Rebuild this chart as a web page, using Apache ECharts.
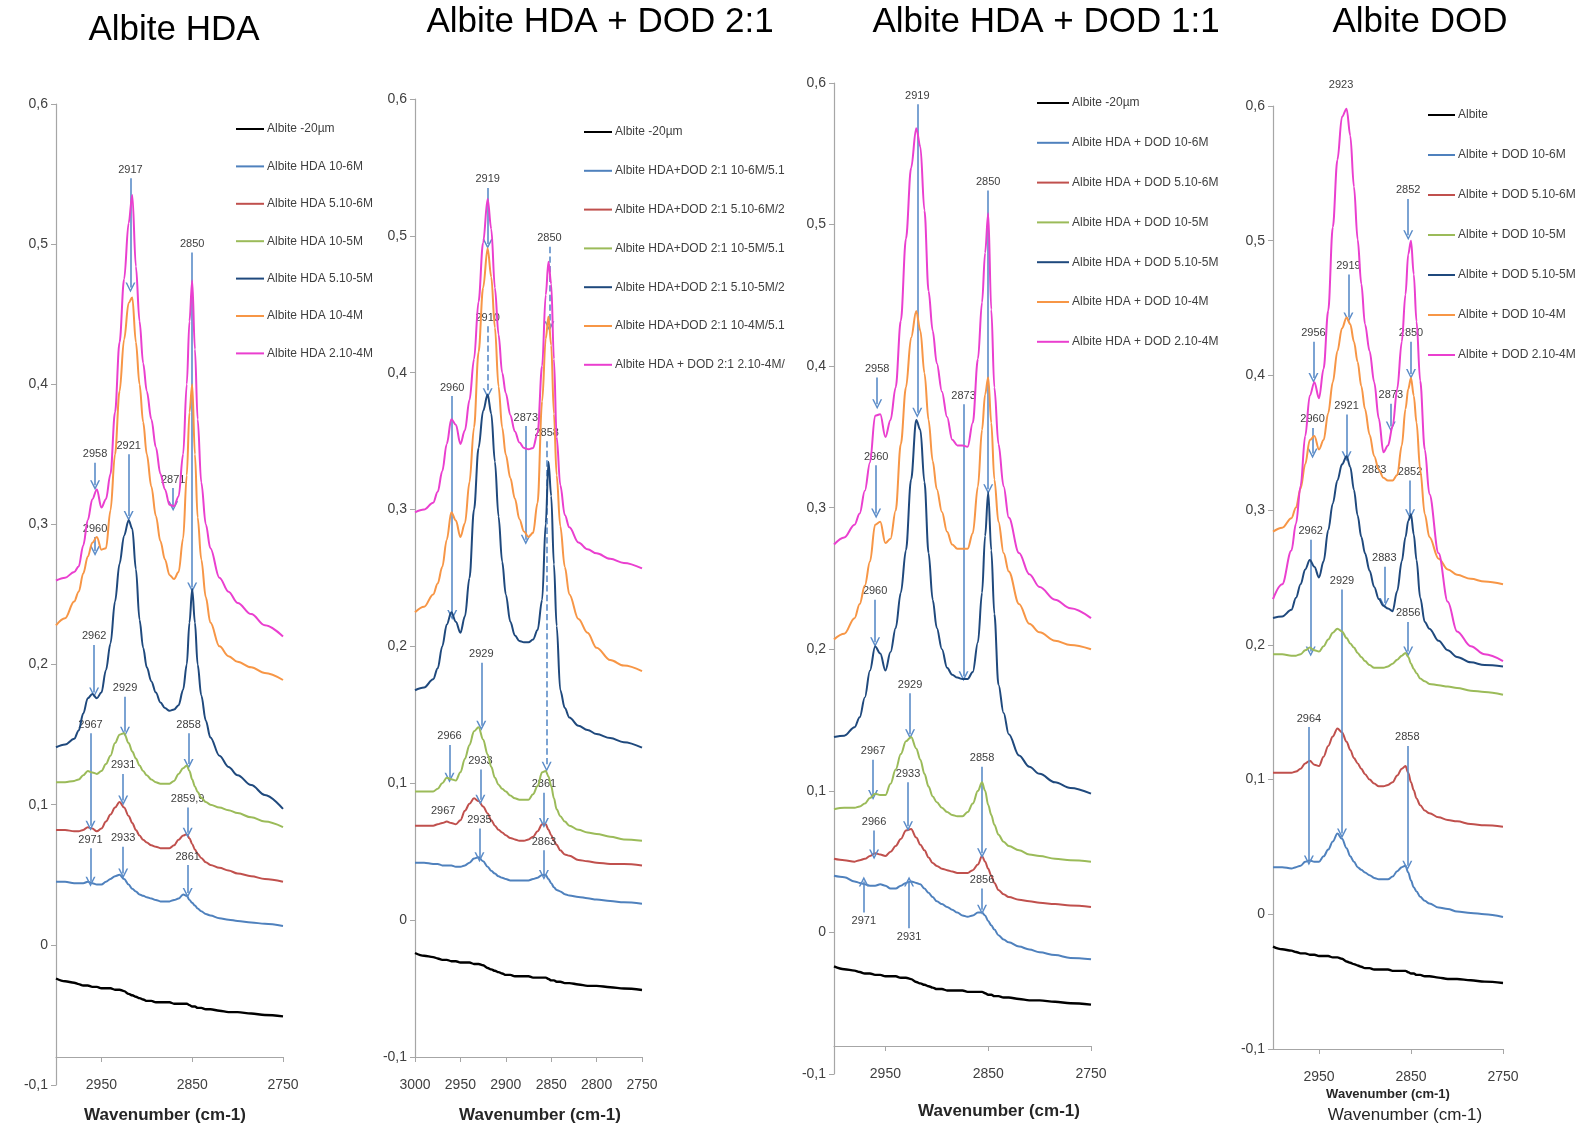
<!DOCTYPE html>
<html><head><meta charset="utf-8">
<script src="https://cdn.jsdelivr.net/npm/echarts@6/dist/echarts.min.js"></script>
<style>html,body{margin:0;padding:0;background:#fff}#chart{width:1579px;height:1130px}</style>
</head><body><div id="chart"></div>
<script>
// ---------------- DATA ----------------
const WAVENUMBERS = [
  3000, 2990, 2980, 2975, 2970, 2965, 2960, 2955,
  2950, 2945, 2940, 2935, 2930, 2925, 2920, 2916,
  2912, 2908, 2904, 2900, 2895, 2890, 2885, 2880,
  2875, 2870, 2865, 2860, 2856, 2853, 2850, 2847,
  2844, 2840, 2835, 2830, 2820, 2810, 2800, 2785, 2770, 2750];

const ALBITE_BASE = [
  -0.024, -0.026, -0.027, -0.028, -0.029, -0.029, -0.030, -0.030,
  -0.031, -0.031, -0.031, -0.032, -0.032, -0.033, -0.035, -0.036,
  -0.037, -0.038, -0.039, -0.040, -0.040, -0.041, -0.041, -0.041,
  -0.041, -0.042, -0.042, -0.042, -0.042, -0.043, -0.044, -0.044,
  -0.045, -0.045, -0.046, -0.046, -0.047, -0.048, -0.048, -0.049, -0.050, -0.051];

// Panel 1 : Albite HDA
const HDA_BLUE = [
  0.045, 0.045, 0.044, 0.044, 0.044, 0.045, 0.044, 0.043,
  0.043, 0.045, 0.047, 0.049, 0.050, 0.047, 0.043, 0.040,
  0.038, 0.036, 0.035, 0.034, 0.033, 0.032, 0.031, 0.031,
  0.031, 0.032, 0.033, 0.036, 0.035, 0.032, 0.030, 0.028,
  0.026, 0.024, 0.022, 0.021, 0.019, 0.018, 0.017, 0.016, 0.015, 0.0135];
const HDA_RED = [
  0.082, 0.082, 0.081, 0.081, 0.082, 0.084, 0.083, 0.081,
  0.083, 0.088, 0.093, 0.098, 0.102, 0.098, 0.092, 0.087,
  0.082, 0.078, 0.075, 0.073, 0.071, 0.070, 0.069, 0.069,
  0.069, 0.071, 0.075, 0.078, 0.079, 0.076, 0.072, 0.068,
  0.065, 0.062, 0.059, 0.057, 0.055, 0.053, 0.051, 0.049, 0.047, 0.045];
const HDA_GREEN = [
  0.116, 0.116, 0.117, 0.118, 0.121, 0.124, 0.123, 0.122,
  0.124, 0.129, 0.135, 0.144, 0.150, 0.151, 0.144, 0.138,
  0.133, 0.128, 0.124, 0.121, 0.118, 0.116, 0.115, 0.115,
  0.115, 0.117, 0.122, 0.126, 0.128, 0.124, 0.118, 0.113,
  0.109, 0.105, 0.102, 0.100, 0.098, 0.096, 0.094, 0.091, 0.088, 0.084];
const HDA_NAVY = [
  0.141, 0.143, 0.147, 0.153, 0.165, 0.176, 0.179, 0.176,
  0.180, 0.196, 0.215, 0.245, 0.272, 0.292, 0.303, 0.297,
  0.268, 0.232, 0.212, 0.198, 0.188, 0.180, 0.173, 0.169,
  0.167, 0.168, 0.171, 0.182, 0.200, 0.230, 0.254, 0.230,
  0.200, 0.178, 0.160, 0.148, 0.135, 0.127, 0.121, 0.114, 0.107, 0.097];
const HDA_ORANGE = [
  0.228, 0.233, 0.245, 0.252, 0.265, 0.277, 0.287, 0.291,
  0.282, 0.283, 0.310, 0.350, 0.395, 0.432, 0.458, 0.462,
  0.430, 0.400, 0.373, 0.350, 0.327, 0.306, 0.288, 0.275,
  0.264, 0.261, 0.266, 0.290, 0.335, 0.380, 0.400, 0.350,
  0.305, 0.275, 0.248, 0.230, 0.213, 0.206, 0.202, 0.198, 0.194, 0.189];
const HDA_PINK = [
  0.260, 0.262, 0.266, 0.270, 0.285, 0.303, 0.318, 0.325,
  0.312, 0.318, 0.336, 0.380, 0.430, 0.475, 0.515, 0.535,
  0.484, 0.445, 0.415, 0.395, 0.375, 0.355, 0.336, 0.325,
  0.314, 0.313, 0.320, 0.350, 0.400, 0.445, 0.474, 0.425,
  0.375, 0.330, 0.300, 0.283, 0.262, 0.252, 0.244, 0.236, 0.228, 0.220];

// Panel 2 : Albite HDA + DOD 2:1
const MIX21_BLUE = [
  0.042, 0.042, 0.041, 0.041, 0.040, 0.040, 0.040, 0.039,
  0.039, 0.040, 0.042, 0.045, 0.046, 0.043, 0.039, 0.036,
  0.034, 0.032, 0.031, 0.030, 0.029, 0.029, 0.029, 0.029,
  0.029, 0.030, 0.031, 0.033, 0.033, 0.030, 0.027, 0.024,
  0.022, 0.021, 0.019, 0.018, 0.017, 0.016, 0.015, 0.014, 0.013, 0.012];
const MIX21_RED = [
  0.069, 0.069, 0.069, 0.070, 0.071, 0.072, 0.071, 0.070,
  0.073, 0.080, 0.085, 0.089, 0.087, 0.083, 0.078, 0.073,
  0.069, 0.066, 0.064, 0.062, 0.060, 0.059, 0.058, 0.058,
  0.059, 0.061, 0.065, 0.070, 0.070, 0.066, 0.062, 0.058,
  0.055, 0.051, 0.048, 0.047, 0.044, 0.043, 0.042, 0.041, 0.041, 0.040];
const MIX21_GREEN = [
  0.094, 0.094, 0.094, 0.096, 0.100, 0.104, 0.103, 0.102,
  0.108, 0.118, 0.128, 0.138, 0.141, 0.132, 0.121, 0.112,
  0.104, 0.099, 0.096, 0.094, 0.091, 0.089, 0.088, 0.088,
  0.088, 0.092, 0.098, 0.108, 0.109, 0.105, 0.098, 0.089,
  0.081, 0.076, 0.072, 0.069, 0.066, 0.064, 0.063, 0.061, 0.059, 0.058];
const MIX21_NAVY = [
  0.168, 0.170, 0.176, 0.184, 0.200, 0.216, 0.225, 0.218,
  0.210, 0.222, 0.250, 0.300, 0.345, 0.372, 0.384, 0.370,
  0.335, 0.295, 0.262, 0.238, 0.218, 0.208, 0.204, 0.203,
  0.203, 0.205, 0.212, 0.234, 0.290, 0.335, 0.310, 0.260,
  0.215, 0.168, 0.155, 0.148, 0.142, 0.139, 0.136, 0.133, 0.130, 0.126];
const MIX21_ORANGE = [
  0.225, 0.229, 0.238, 0.246, 0.258, 0.278, 0.298, 0.292,
  0.280, 0.290, 0.320, 0.360, 0.415, 0.462, 0.491, 0.470,
  0.433, 0.390, 0.360, 0.340, 0.323, 0.308, 0.293, 0.284,
  0.280, 0.283, 0.305, 0.379, 0.425, 0.441, 0.420, 0.370,
  0.325, 0.288, 0.258, 0.238, 0.220, 0.210, 0.199, 0.190, 0.186, 0.182];
const MIX21_PINK = [
  0.298, 0.300, 0.305, 0.313, 0.328, 0.348, 0.366, 0.362,
  0.348, 0.358, 0.380, 0.410, 0.452, 0.495, 0.527, 0.505,
  0.462, 0.428, 0.400, 0.385, 0.369, 0.357, 0.349, 0.345,
  0.344, 0.345, 0.356, 0.405, 0.457, 0.481, 0.465, 0.410,
  0.353, 0.318, 0.296, 0.287, 0.276, 0.271, 0.268, 0.264, 0.261, 0.257];

// Panel 3 : Albite HDA + DOD 1:1
const MIX11_BLUE = [
  0.040, 0.039, 0.036, 0.035, 0.034, 0.033, 0.033, 0.034,
  0.033, 0.031, 0.031, 0.033, 0.035, 0.036, 0.035, 0.034,
  0.031, 0.028, 0.025, 0.022, 0.020, 0.018, 0.016, 0.014,
  0.012, 0.011, 0.012, 0.014, 0.014, 0.012, 0.008, 0.005,
  0.002, -0.002, -0.005, -0.007, -0.010, -0.012, -0.014, -0.016, -0.018, -0.019];
const MIX11_RED = [
  0.052, 0.051, 0.050, 0.051, 0.052, 0.054, 0.056, 0.055,
  0.054, 0.057, 0.061, 0.066, 0.072, 0.073, 0.067, 0.062,
  0.058, 0.053, 0.049, 0.047, 0.045, 0.044, 0.043, 0.042,
  0.042, 0.042, 0.044, 0.048, 0.054, 0.050, 0.045, 0.040,
  0.035, 0.030, 0.027, 0.025, 0.023, 0.022, 0.021, 0.020, 0.019, 0.018];
const MIX11_GREEN = [
  0.087, 0.088, 0.088, 0.089, 0.091, 0.095, 0.098, 0.097,
  0.097, 0.105, 0.115, 0.126, 0.135, 0.138, 0.130, 0.122,
  0.112, 0.103, 0.096, 0.092, 0.088, 0.085, 0.083, 0.082,
  0.082, 0.085, 0.091, 0.100, 0.106, 0.100, 0.090, 0.083,
  0.076, 0.069, 0.064, 0.061, 0.058, 0.055, 0.054, 0.052, 0.051, 0.050];
const MIX11_NAVY = [
  0.138, 0.139, 0.145, 0.152, 0.166, 0.185, 0.202, 0.197,
  0.185, 0.198, 0.215, 0.240, 0.270, 0.320, 0.362, 0.355,
  0.318, 0.268, 0.235, 0.215, 0.200, 0.187, 0.182, 0.180,
  0.179, 0.179, 0.184, 0.205, 0.240, 0.280, 0.311, 0.270,
  0.225, 0.175, 0.155, 0.140, 0.125, 0.117, 0.112, 0.106, 0.102, 0.098];
const MIX11_ORANGE = [
  0.207, 0.211, 0.222, 0.232, 0.245, 0.262, 0.288, 0.290,
  0.275, 0.278, 0.298, 0.345, 0.385, 0.420, 0.439, 0.425,
  0.395, 0.362, 0.333, 0.313, 0.297, 0.283, 0.274, 0.271,
  0.271, 0.271, 0.282, 0.315, 0.355, 0.380, 0.392, 0.360,
  0.320, 0.290, 0.268, 0.255, 0.232, 0.218, 0.212, 0.206, 0.203, 0.200];
const MIX11_PINK = [
  0.274, 0.279, 0.288, 0.296, 0.312, 0.332, 0.365, 0.366,
  0.350, 0.362, 0.385, 0.432, 0.490, 0.540, 0.568, 0.555,
  0.510, 0.453, 0.425, 0.402, 0.382, 0.364, 0.348, 0.344,
  0.344, 0.343, 0.360, 0.405, 0.445, 0.480, 0.508, 0.440,
  0.385, 0.345, 0.315, 0.293, 0.268, 0.253, 0.244, 0.235, 0.229, 0.222];

// Panel 4 : Albite DOD
const DOD_BLUE = [
  0.035, 0.035, 0.034, 0.035, 0.036, 0.039, 0.040, 0.039,
  0.039, 0.043, 0.048, 0.054, 0.060, 0.056, 0.049, 0.043,
  0.039, 0.035, 0.033, 0.031, 0.029, 0.027, 0.026, 0.026,
  0.026, 0.028, 0.032, 0.035, 0.036, 0.031, 0.025, 0.020,
  0.017, 0.013, 0.010, 0.008, 0.005, 0.004, 0.002, 0.001, 0.000, -0.002];
const DOD_RED = [
  0.105, 0.105, 0.105, 0.106, 0.108, 0.112, 0.114, 0.111,
  0.110, 0.117, 0.125, 0.132, 0.138, 0.135, 0.128, 0.122,
  0.116, 0.112, 0.108, 0.104, 0.100, 0.097, 0.095, 0.095,
  0.096, 0.098, 0.103, 0.108, 0.110, 0.105, 0.098, 0.092,
  0.086, 0.081, 0.077, 0.075, 0.072, 0.070, 0.069, 0.067, 0.066, 0.065];
const DOD_GREEN = [
  0.193, 0.193, 0.192, 0.192, 0.193, 0.196, 0.198, 0.196,
  0.195, 0.199, 0.204, 0.209, 0.212, 0.210, 0.205, 0.201,
  0.198, 0.194, 0.191, 0.188, 0.185, 0.183, 0.183, 0.183,
  0.184, 0.186, 0.189, 0.192, 0.194, 0.191, 0.186, 0.182,
  0.179, 0.175, 0.173, 0.171, 0.170, 0.169, 0.168, 0.166, 0.165, 0.163];
const DOD_NAVY = [
  0.220, 0.221, 0.226, 0.235, 0.245, 0.256, 0.263, 0.258,
  0.250, 0.262, 0.285, 0.305, 0.322, 0.334, 0.340, 0.332,
  0.315, 0.296, 0.280, 0.268, 0.255, 0.243, 0.234, 0.229,
  0.227, 0.225, 0.240, 0.262, 0.280, 0.292, 0.297, 0.282,
  0.263, 0.235, 0.217, 0.212, 0.203, 0.196, 0.191, 0.187, 0.185, 0.184];
const DOD_ORANGE = [
  0.284, 0.287, 0.294, 0.302, 0.316, 0.334, 0.352, 0.355,
  0.345, 0.352, 0.372, 0.395, 0.418, 0.435, 0.443, 0.438,
  0.425, 0.410, 0.392, 0.375, 0.356, 0.340, 0.330, 0.324,
  0.322, 0.322, 0.326, 0.348, 0.375, 0.390, 0.398, 0.385,
  0.365, 0.330, 0.297, 0.280, 0.264, 0.256, 0.252, 0.249, 0.247, 0.245];
const DOD_PINK = [
  0.234, 0.245, 0.270, 0.290, 0.318, 0.355, 0.385, 0.395,
  0.383, 0.405, 0.448, 0.510, 0.560, 0.592, 0.598, 0.578,
  0.540, 0.501, 0.468, 0.438, 0.418, 0.395, 0.368, 0.343,
  0.348, 0.362, 0.390, 0.425, 0.460, 0.490, 0.500, 0.475,
  0.440, 0.396, 0.345, 0.312, 0.268, 0.232, 0.210, 0.199, 0.193, 0.188];

const HDA_NAMES = ['Albite -20µm', 'Albite HDA 10-6M', 'Albite HDA 5.10-6M', 'Albite HDA 10-5M', 'Albite HDA 5.10-5M', 'Albite HDA 10-4M', 'Albite HDA 2.10-4M'];
const MIX21_NAMES = ['Albite -20µm', 'Albite HDA+DOD 2:1 10-6M/5.1', 'Albite HDA+DOD 2:1 5.10-6M/2', 'Albite HDA+DOD 2:1 10-5M/5.1', 'Albite HDA+DOD 2:1 5.10-5M/2', 'Albite HDA+DOD 2:1 10-4M/5.1', 'Albite HDA + DOD 2:1 2.10-4M/'];
const MIX11_NAMES = ['Albite -20µm', 'Albite HDA + DOD 10-6M', 'Albite HDA + DOD 5.10-6M', 'Albite HDA + DOD 10-5M', 'Albite HDA + DOD 5.10-5M', 'Albite HDA + DOD 10-4M', 'Albite HDA + DOD 2.10-4M'];
const DOD_NAMES = ['Albite', 'Albite + DOD 10-6M', 'Albite + DOD 5.10-6M', 'Albite + DOD 10-5M', 'Albite + DOD 5.10-5M', 'Albite + DOD 10-4M', 'Albite + DOD 2.10-4M'];

const PANEL_TITLES = ['Albite HDA', 'Albite HDA + DOD 2:1', 'Albite HDA + DOD 1:1', 'Albite DOD'];
const X_TITLE = 'Wavenumber (cm-1)';
const TICKS_WIDE = [2950, 2850, 2750];
const TICKS_21 = [3000, 2950, 2900, 2850, 2800, 2750];

// peak annotations: [label, wavenumber, y start, y tip, style]
const ANN_HDA = [
  ['2917', 2918, 0.547, 0.469], ['2850', 2850, 0.494, 0.255], ['2958', 2957, 0.344, 0.328],
  ['2960', 2957, 0.291, 0.281], ['2921', 2920, 0.350, 0.306], ['2871', 2871, 0.326, 0.313],
  ['2962', 2958, 0.214, 0.180], ['2929', 2924, 0.177, 0.152], ['2967', 2962, 0.151, 0.085],
  ['2931', 2926, 0.122, 0.103], ['2858', 2854, 0.151, 0.129], ['2859,9', 2855, 0.098, 0.080],
  ['2971', 2962, 0.069, 0.045], ['2933', 2926, 0.070, 0.051], ['2861', 2855, 0.057, 0.037]];
const ANN_MIX21 = [
  ['2919', 2920, 0.535, 0.494], ['2850', 2852, 0.492, 0.434, 'dash'], ['2910', 2920, 0.434, 0.385, 'dash'],
  ['2960', 2959, 0.383, 0.223], ['2873', 2878, 0.361, 0.278], ['2858', 2855, 0.350, 0.112, 'dash'],
  ['2929', 2927, 0.188, 0.142], ['2966', 2962, 0.128, 0.104], ['2933', 2928, 0.110, 0.088],
  ['2861', 2858, 0.093, 0.071], ['2935', 2929, 0.067, 0.046], ['2863', 2858, 0.051, 0.033]];
const ANN_MIX11 = [
  ['2919', 2919, 0.585, 0.367], ['2850', 2850, 0.524, 0.313], ['2958', 2958, 0.392, 0.373],
  ['2873', 2874, 0.373, 0.181], ['2960', 2959, 0.330, 0.296], ['2960', 2960, 0.235, 0.205],
  ['2929', 2926, 0.169, 0.140], ['2967', 2962, 0.122, 0.097], ['2933', 2928, 0.106, 0.075],
  ['2858', 2856, 0.117, 0.056], ['2966', 2961, 0.072, 0.055], ['2856', 2856, 0.031, 0.016],
  ['2971', 2971, 0.014, 0.036], ['2931', 2927, 0.003, 0.036]];
const ANN_DOD = [
  ['2852', 2853, 0.531, 0.504], ['2919', 2918, 0.475, 0.443], ['2956', 2956, 0.425, 0.398],
  ['2850', 2850, 0.425, 0.401], ['2873', 2872, 0.379, 0.362], ['2960', 2957, 0.361, 0.342],
  ['2921', 2920, 0.371, 0.340], ['2852', 2851, 0.322, 0.297], ['2962', 2959, 0.278, 0.195],
  ['2883', 2879, 0.258, 0.231], ['2929', 2925, 0.241, 0.060], ['2856', 2853, 0.217, 0.195],
  ['2964', 2961, 0.139, 0.040], ['2858', 2854, 0.125, 0.036]];
const TEXT_MIX21 = [['2967', 2969, 0.080]];
const TEXT_DOD = [['2923', 2926, 0.6, 'above'], ['2883', 2890, 0.330]];

// ---------------- STYLE / LAYOUT ----------------
const COLORS = ['#000000', '#4F81BD', '#C0504D', '#9BBB59', '#1F497D', '#F79646', '#EA3FCF'];
const NARROW = "'Liberation Sans Narrow','Liberation Sans',sans-serif";
const BASEFONT = "'Liberation Sans',Arial,sans-serif";
const ARROW_HEAD = 'path://M0,10 L5,0 L10,10 L8.4,10 L5,3.2 L1.6,10 Z';

const PANELS = [
  {names: HDA_NAMES, sets: [ALBITE_BASE, HDA_BLUE, HDA_RED, HDA_GREEN, HDA_NAVY, HDA_ORANGE, HDA_PINK],
   ann: ANN_HDA, txt: [], ticks: TICKS_WIDE,
   grid: {left: 56, top: 104, width: 227, height: 981}, offset: -28,
   title: [174, 30], xname: [165, 1115],
   legend: {left: 236, top: 122, gap: 23.4, w: 28}},
  {names: MIX21_NAMES, sets: [ALBITE_BASE, MIX21_BLUE, MIX21_RED, MIX21_GREEN, MIX21_NAVY, MIX21_ORANGE, MIX21_PINK],
   ann: ANN_MIX21, txt: TEXT_MIX21, ticks: TICKS_21,
   grid: {left: 415, top: 99, width: 227, height: 958}, offset: 0,
   title: [600, 22], xname: [540, 1115],
   legend: {left: 584, top: 125, gap: 24.8, w: 28}},
  {names: MIX11_NAMES, sets: [ALBITE_BASE, MIX11_BLUE, MIX11_RED, MIX11_GREEN, MIX11_NAVY, MIX11_ORANGE, MIX11_PINK],
   ann: ANN_MIX11, txt: [], ticks: TICKS_WIDE,
   grid: {left: 834, top: 83, width: 257, height: 991}, offset: -28,
   title: [1046, 22], xname: [999, 1111],
   legend: {left: 1037, top: 96, gap: 25.8, w: 32}},
  {names: DOD_NAMES, sets: [ALBITE_BASE, DOD_BLUE, DOD_RED, DOD_GREEN, DOD_NAVY, DOD_ORANGE, DOD_PINK],
   ann: ANN_DOD, txt: TEXT_DOD, ticks: TICKS_WIDE,
   grid: {left: 1273, top: 106, width: 230, height: 943}, offset: 0,
   title: [1420, 22], xname: [1405, 1115],
   legend: {left: 1428, top: 108, gap: 26, w: 27}}
];

const AXIS_COLOR = '#A6A6A6';
const fmtY = v => { const r = Math.round(v * 10) / 10; return String(r).replace('.', ','); };
const fmtX = v => String(Math.round(v));

const grids = [], xAxes = [], yAxes = [], series = [], legends = [], titles = [];
PANELS.forEach((p, i) => {
  grids.push(Object.assign({containLabel: false}, p.grid));
  xAxes.push({
    gridIndex: i, type: 'value', min: 2750, max: 3000, inverse: true, offset: p.offset,
    axisLine: {show: true, onZero: false, lineStyle: {color: AXIS_COLOR, width: 1.2}},
    axisTick: {show: true, length: 5, customValues: p.ticks, lineStyle: {color: AXIS_COLOR}},
    axisLabel: {customValues: p.ticks, formatter: fmtX, margin: 21, fontSize: 14, color: '#404040', fontFamily: BASEFONT},
    splitLine: {show: false}
  });
  yAxes.push({
    gridIndex: i, type: 'value', min: -0.1, max: 0.6, interval: 0.1,
    axisLine: {show: true, onZero: false, lineStyle: {color: AXIS_COLOR, width: 1.2}},
    axisTick: {show: true, length: 5, lineStyle: {color: AXIS_COLOR}},
    axisLabel: {formatter: fmtY, fontSize: 14, color: '#404040', margin: 8, fontFamily: BASEFONT},
    splitLine: {show: false}
  });
  p.sets.forEach((vals, k) => {
    series.push({
      type: 'line', name: p.names[k], xAxisIndex: i, yAxisIndex: i,
      data: WAVENUMBERS.map((w, j) => [w, vals[j]]),
      showSymbol: false, symbol: 'none', smooth: 0.35, smoothMonotone: 'x',
      lineStyle: {color: COLORS[k], width: k === 0 ? 2.4 : 2},
      itemStyle: {color: COLORS[k]}, z: 2 + k, silent: true, animation: false
    });
  });
  series.push({
    type: 'line', name: 'annotations-' + i, xAxisIndex: i, yAxisIndex: i, data: [], z: 20, silent: true, animation: false,
    markLine: {
      silent: true, animation: false, symbol: ['none', ARROW_HEAD], symbolSize: 10, precision: 4,
      lineStyle: {color: '#5B8CC8', width: 1.6, type: 'solid'},
      label: {show: true, position: 'start', formatter: '{b}', fontSize: 11, color: '#404040', fontFamily: NARROW, distance: 3},
      emphasis: {disabled: true},
      data: p.ann.map(a => [
        {coord: [a[1], a[2]], name: a[0], lineStyle: {type: a[4] === 'dash' ? 'dashed' : 'solid'}},
        {coord: [a[1], a[3]]}
      ])
    },
    markPoint: {
      silent: true, animation: false, symbol: 'circle', symbolSize: 1, itemStyle: {color: 'rgba(0,0,0,0)'},
      label: {show: true, position: 'inside', formatter: '{b}', fontSize: 11, color: '#404040', fontFamily: NARROW},
      data: p.txt.map(t => ({coord: [t[1], t[2]], name: t[0],
        label: t[3] === 'above' ? {offset: [0, -21]} : {}}))
    }
  });
  legends.push({
    orient: 'vertical', left: p.legend.left, top: p.legend.top, padding: 0,
    itemWidth: p.legend.w, itemHeight: 2, itemGap: p.legend.gap, icon: 'rect', selectedMode: false,
    data: p.names.slice(),
    textStyle: {fontSize: 12, lineHeight: 14, color: '#404040', fontFamily: NARROW, padding: [0, 0, 0, -2]}
  });
  titles.push({text: PANEL_TITLES[i], left: p.title[0], top: p.title[1], textAlign: 'center', textVerticalAlign: 'middle', padding: 0,
    textStyle: {fontSize: 35, fontWeight: 'normal', color: '#000', fontFamily: BASEFONT}});
  titles.push({text: X_TITLE, left: p.xname[0], top: p.xname[1], textAlign: 'center', textVerticalAlign: 'middle', padding: 0,
    textStyle: {fontSize: i === 3 ? 17 : 17, fontWeight: i === 3 ? 'normal' : 'bold', color: '#262626', fontFamily: BASEFONT}});
});
titles.push({text: X_TITLE, left: 1388, top: 1094, textAlign: 'center', textVerticalAlign: 'middle', padding: 0,
  textStyle: {fontSize: 13, fontWeight: 'bold', color: '#262626', fontFamily: NARROW}});

const chart = echarts.init(document.getElementById('chart'), null, {renderer: 'canvas'});
chart.setOption({
  backgroundColor: '#ffffff', animation: false,
  title: titles, grid: grids, xAxis: xAxes, yAxis: yAxes, legend: legends, series: series
});
</script>
</body></html>
